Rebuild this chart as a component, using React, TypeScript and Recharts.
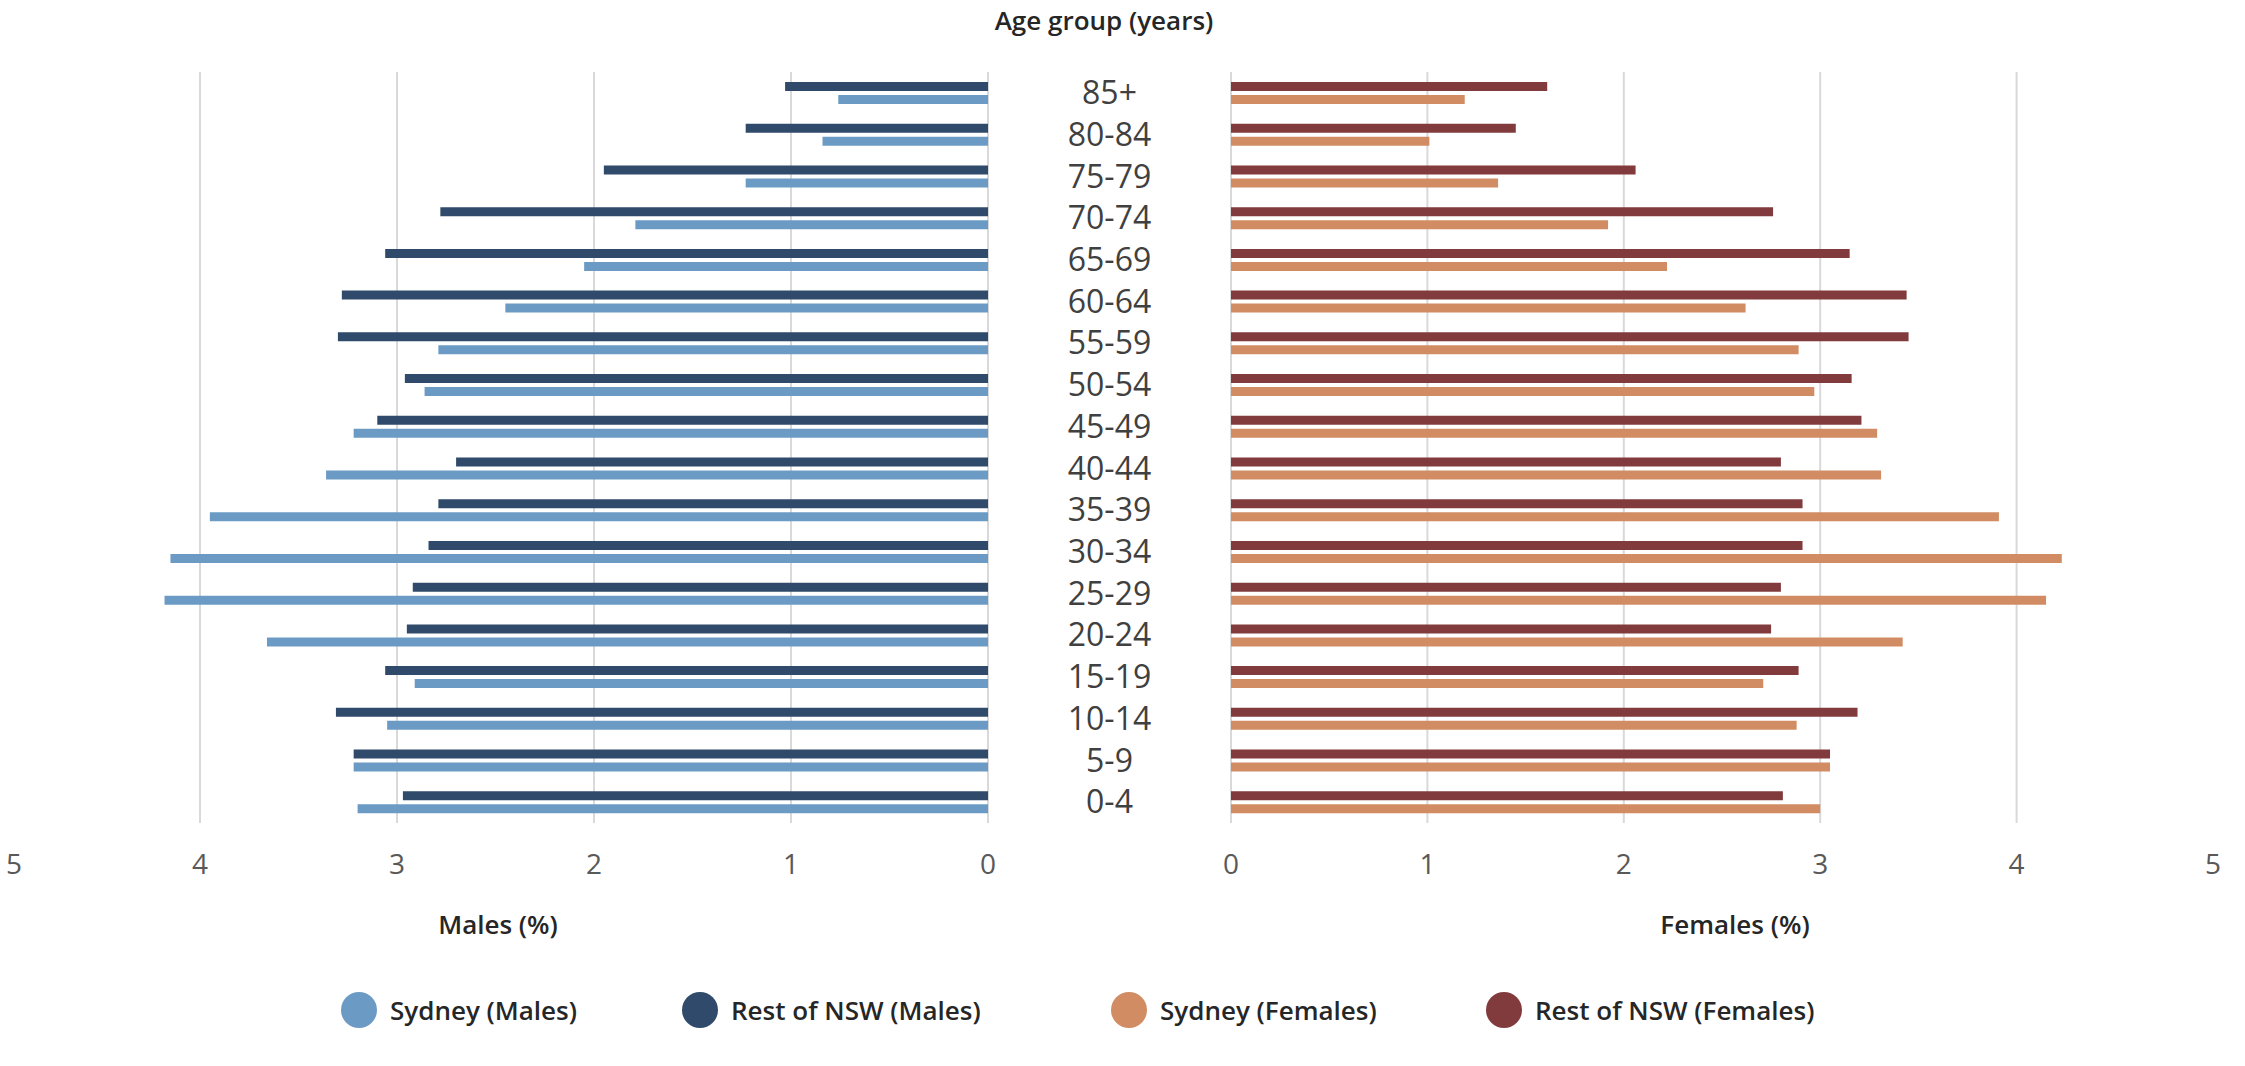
import React from 'react';
import { BarChart, Bar, XAxis, YAxis, CartesianGrid } from 'recharts';

const ageGroups = ['85+', '80-84', '75-79', '70-74', '65-69', '60-64', '55-59', '50-54', '45-49', '40-44', '35-39', '30-34', '25-29', '20-24', '15-19', '10-14', '5-9', '0-4'];
const sydneyMales = [0.76, 0.84, 1.23, 1.79, 2.05, 2.45, 2.79, 2.86, 3.22, 3.36, 3.95, 4.15, 4.18, 3.66, 2.91, 3.05, 3.22, 3.2];
const restMales = [1.03, 1.23, 1.95, 2.78, 3.06, 3.28, 3.3, 2.96, 3.1, 2.7, 2.79, 2.84, 2.92, 2.95, 3.06, 3.31, 3.22, 2.97];
const sydneyFemales = [1.19, 1.01, 1.36, 1.92, 2.22, 2.62, 2.89, 2.97, 3.29, 3.31, 3.91, 4.23, 4.15, 3.42, 2.71, 2.88, 3.05, 3.0];
const restFemales = [1.61, 1.45, 2.06, 2.76, 3.15, 3.44, 3.45, 3.16, 3.21, 2.8, 2.91, 2.91, 2.8, 2.75, 2.89, 3.19, 3.05, 2.81];
const pctTicks = [0, 1, 2, 3, 4, 5];
const gridValues = [0, 1, 2, 3, 4];

const COLORS = {
  sydneyMales: '#6b9bc4',
  restMales: '#2f4a6a',
  sydneyFemales: '#d18c63',
  restFemales: '#823b3d',
};

const FONT = '"Open Sans", "Noto Sans", sans-serif';

const data = ageGroups.map((age, i) => ({
  age,
  sydneyMales: sydneyMales[i],
  restMales: restMales[i],
  sydneyFemales: sydneyFemales[i],
  restFemales: restFemales[i],
}));

const legendItems = [
  { label: 'Sydney (Males)', color: COLORS.sydneyMales, left: 341 },
  { label: 'Rest of NSW (Males)', color: COLORS.restMales, left: 682 },
  { label: 'Sydney (Females)', color: COLORS.sydneyFemales, left: 1111 },
  { label: 'Rest of NSW (Females)', color: COLORS.restFemales, left: 1486 },
];

const PctTick = ({ x, y, payload }: any) => (
  <text
    x={Math.max(x, 14)}
    y={y + 41}
    dy="0.35em"
    textAnchor="middle"
    fill="#595959"
    fontSize={28}
    fontFamily={FONT}
  >
    {payload.value}
  </text>
);

const AgeTick = ({ x, y, payload }: any) => (
  <text
    x={x - 121.5}
    y={y}
    dy="0.35em"
    textAnchor="middle"
    fill="#404040"
    fontSize={32}
    fontFamily={FONT}
  >
    {payload.value}
  </text>
);

const textStyle: React.CSSProperties = {
  position: 'absolute',
  fontFamily: FONT,
  fontWeight: 600,
  color: '#262626',
  whiteSpace: 'nowrap',
};

export default function App() {
  return (
    <div style={{ position: 'absolute', left: 0, top: 0, width: 2245, height: 1066, background: '#fff', overflow: 'hidden' }}>
      <div style={{ ...textStyle, left: 0, width: 2208, top: 2, fontSize: 26, textAlign: 'center' }}>
        Age group (years)
      </div>

      {/* Males */}
      <div style={{ position: 'absolute', left: 0, top: 0 }}>
        <BarChart
          width={1000}
          height={883}
          data={data}
          layout="vertical"
          margin={{ top: 72, right: 12, left: 3, bottom: 0 }}
          barSize={9}
          barGap={4}
        >
          <CartesianGrid horizontal={false} stroke="#d9d9d9" strokeWidth={2} verticalValues={gridValues} />
          <XAxis
            type="number"
            domain={[0, 5]}
            ticks={pctTicks}
            reversed
            axisLine={false}
            tickLine={false}
            tickSize={0}
            tickMargin={0}
            height={60}
            tick={<PctTick />}
          />
          <YAxis type="category" dataKey="age" hide />
          <Bar dataKey="restMales" fill={COLORS.restMales} isAnimationActive={false} />
          <Bar dataKey="sydneyMales" fill={COLORS.sydneyMales} isAnimationActive={false} />
        </BarChart>
      </div>

      {/* Females, with the age labels in the gap */}
      <div style={{ position: 'absolute', left: 988, top: 0 }}>
        <BarChart
          width={1245}
          height={883}
          data={data}
          layout="vertical"
          margin={{ top: 72, right: 20, left: 0, bottom: 0 }}
          barSize={9}
          barGap={4}
        >
          <CartesianGrid horizontal={false} stroke="#d9d9d9" strokeWidth={2} verticalValues={gridValues} />
          <XAxis
            type="number"
            domain={[0, 5]}
            ticks={pctTicks}
            axisLine={false}
            tickLine={false}
            tickSize={0}
            tickMargin={0}
            height={60}
            tick={<PctTick />}
          />
          <YAxis
            type="category"
            dataKey="age"
            width={243}
            axisLine={false}
            tickLine={false}
            tickSize={0}
            tickMargin={0}
            interval={0}
            tick={<AgeTick />}
          />
          <Bar dataKey="restFemales" fill={COLORS.restFemales} isAnimationActive={false} />
          <Bar dataKey="sydneyFemales" fill={COLORS.sydneyFemales} isAnimationActive={false} />
        </BarChart>
      </div>

      <div style={{ ...textStyle, left: 398, width: 200, top: 906, fontSize: 26, textAlign: 'center' }}>Males (%)</div>
      <div style={{ ...textStyle, left: 1635, width: 200, top: 906, fontSize: 26, textAlign: 'center' }}>Females (%)</div>

      {legendItems.map((item) => (
        <div
          key={item.label}
          style={{ position: 'absolute', left: item.left, top: 992, display: 'flex', alignItems: 'center' }}
        >
          <span style={{ width: 36, height: 36, borderRadius: '50%', background: item.color, display: 'inline-block' }} />
          <span style={{ fontFamily: FONT, fontWeight: 600, fontSize: 26, color: '#262626', marginLeft: 13, whiteSpace: 'nowrap' }}>
            {item.label}
          </span>
        </div>
      ))}
    </div>
  );
}
